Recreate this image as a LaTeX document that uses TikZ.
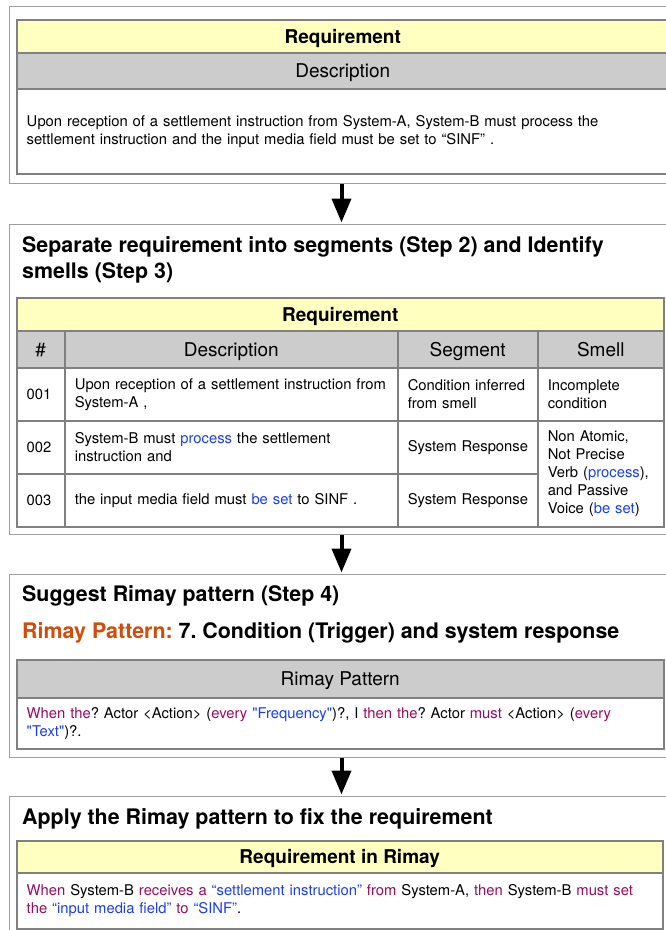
\documentclass[tikz,border=0pt]{standalone}
\usepackage{fontspec}
\setmainfont{TeX Gyre Heros}[Ligatures=TeXReset]
\usepackage{tikz}
\usetikzlibrary{arrows.meta}
\definecolor{ryellow}{RGB}{255,255,192}
\definecolor{rgrey}{RGB}{204,204,204}
\definecolor{rline}{RGB}{128,128,128}
\definecolor{rframe}{RGB}{160,160,160}
\definecolor{rkey}{RGB}{155,10,95}
\definecolor{rval}{RGB}{25,60,250}
\definecolor{rorange}{RGB}{210,75,10}
\newcommand{\kw}[1]{\textcolor{rkey}{#1}}
\newcommand{\vl}[1]{\textcolor{rval}{#1}}
\frenchspacing

\begin{document}
\begin{tikzpicture}[x=1pt,y=-1pt,>={Triangle[length=24pt,width=19pt]},shorten >=1.5pt,
  panel node/.style={draw=rframe,line width=1pt,anchor=north west,inner sep=0pt,minimum width=664pt},
  yellow node/.style={draw=rline,line width=1.5pt,fill=ryellow,anchor=north west,inner sep=0pt,
    minimum height=33pt,text height=13.6pt,text depth=0pt,font=\fontsize{19}{22}\selectfont\bfseries},
  grey node/.style={draw=rline,line width=1.5pt,fill=rgrey,anchor=north west,inner sep=0pt,
    minimum height=37pt,text height=13.6pt,text depth=0pt,font=\fontsize{19}{22}\selectfont},
  cell node/.style={draw=rline,line width=1.5pt,fill=white,anchor=north west,inner xsep=10pt,
    inner ysep=0pt,align=left,font=\fontsize{14.8}{18}\selectfont},
  title node/.style={anchor=west,inner sep=0pt,align=left,font=\fontsize{21.4}{26}\selectfont\bfseries}]
  \useasboundingbox (0,0) rectangle (665,930);

  \node[panel node,minimum height=177pt] (p1) at (9,6) {};
  \node[panel node,minimum height=310pt] (p2) at (9,224) {};
  \node[panel node,minimum height=183pt] (p3) at (9,574) {};
  \node[panel node,minimum height=150pt] (p4) at (9,796) {};

  % original requirement
  \node[yellow node,minimum width=652pt] (r1) at (16,19) {Requirement};
  \node[grey node,minimum width=652pt,minimum height=36pt] (d1) at (16,52) {Description};
  \node[cell node,text width=632pt,minimum height=85pt] (t1) at (16,88)
    {Upon reception of a settlement instruction from System-A, System-B must process the\\
     settlement instruction and the input media field must be set to “SINF” .};

  % segments and smells
  \node[title node] (s2) at (22,259.5)
    {Separate requirement into segments (Step 2) and Identify\\smells (Step 3)};
  \node[yellow node,minimum width=647pt] (r2) at (16,297) {Requirement};
  \node[grey node,minimum width=48pt] (h1) at (16,330) {\#};
  \node[grey node,minimum width=333pt] (h2) at (64,330) {Description};
  \node[grey node,minimum width=140pt] (h3) at (397,330) {Segment};
  \node[grey node,minimum width=126pt] (h4) at (537,330) {Smell};

  \node[cell node,text width=28pt,minimum height=53pt] (n1) at (16,367) {001};
  \node[cell node,text width=313pt,minimum height=53pt] (c1) at (64,367)
    {Upon reception of a settlement instruction from\\System-A ,};
  \node[cell node,text width=120pt,minimum height=53pt] (g1) at (397,367) {Condition inferred\\from smell};
  \node[cell node,text width=106pt,minimum height=53pt] (m1) at (537,367) {Incomplete\\condition};

  \node[cell node,text width=28pt,minimum height=53pt] (n2) at (16,420) {002};
  \node[cell node,text width=313pt,minimum height=53pt] (c2) at (64,420)
    {System-B must \vl{process} the settlement\\instruction and};
  \node[cell node,text width=120pt,minimum height=53pt] (g2) at (397,420) {\mbox{System Response}};
  \node[cell node,text width=106pt,minimum height=106pt] (m2) at (537,420)
    {Non Atomic,\\Not Precise\\Verb (\vl{process}),\\and Passive\\Voice (\vl{be set})};

  \node[cell node,text width=28pt,minimum height=53pt] (n3) at (16,473) {003};
  \node[cell node,text width=313pt,minimum height=53pt] (c3) at (64,473)
    {the input media field must \vl{be set} to SINF .};
  \node[cell node,text width=120pt,minimum height=53pt] (g3) at (397,473) {\mbox{System Response}};

  % pattern
  \node[title node] (s3) at (22,596) {Suggest Rimay pattern (Step 4)};
  \node[title node] (k3) at (22,633)
    {\textcolor{rorange}{Rimay Pattern:} 7. Condition (Trigger) and system response};
  \node[grey node,minimum width=647pt,minimum height=38pt] (h5) at (16,659) {Rimay Pattern};
  \node[cell node,text width=627pt,minimum height=51pt] (t3) at (16,697)
    {\kw{When the}? Actor <Action> (\kw{every} \vl{"Frequency"})?, I \kw{then the}? Actor \kw{must} <Action> (\kw{every}\\
     \vl{"Text"})?.};

  % fixed requirement
  \node[title node] (s4) at (22,819) {Apply the Rimay pattern to fix the requirement};
  \node[yellow node,minimum width=646pt,minimum height=32pt] (r4) at (16,840) {Requirement in Rimay};
  \node[cell node,text width=626pt,minimum height=56pt] (t4) at (16,872)
    {\kw{When} System-B \kw{receives a} \vl{“settlement instruction”} \kw{from} System-A, \kw{then} System-B \kw{must set}\\
     \kw{the} \vl{“input media field”} \kw{to} \vl{“SINF”}.};

  \path[->,line width=4pt]
    (p1.south) edge (p2.north)
    (p2.south) edge (p3.north)
    (p3.south) edge (p4.north);
\end{tikzpicture}
\end{document}
